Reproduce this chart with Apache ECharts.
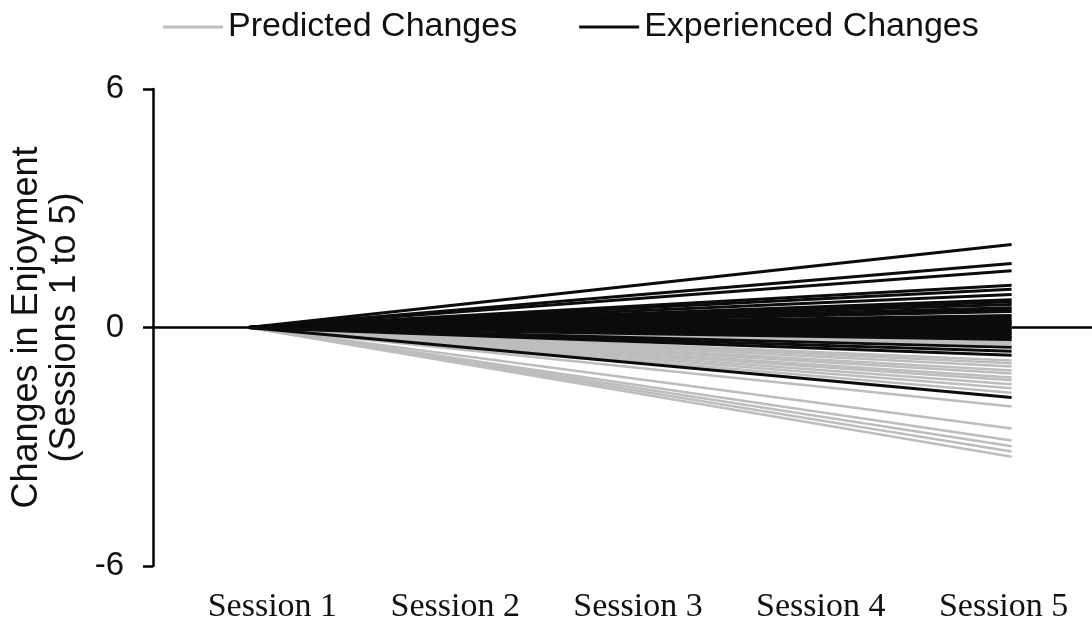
<!DOCTYPE html>
<html>
<head>
<meta charset="utf-8">
<title>Changes in Enjoyment</title>
<script src="https://cdn.jsdelivr.net/npm/echarts@6/dist/echarts.min.js"></script>
<style>
  html, body { margin: 0; padding: 0; background: #ffffff; }
  #chart { width: 1092px; height: 620px; }
</style>
</head>
<body>
<div id="chart"></div>
<script>
// Session labels along the x axis
const sessions = ['Session 1', 'Session 2', 'Session 3', 'Session 4', 'Session 5'];

// Y axis ticks
const yTicks = [-6, 0, 6];

// Change in enjoyment from session 1 to session 5, one value per participant
const predictedEnd = [
  0.30, 0.15, 0.05, 0.0, -0.05, -0.15, -0.25, -0.35, -0.40, -0.45,
  -0.83, -0.90, -0.98, -1.08, -1.16, -1.26, -1.33, -1.43, -1.53, -1.64,
  -1.99, -2.54, -2.84, -2.99, -3.12, -3.25
];
const experiencedEnd = [
  2.09, 1.61, 1.43, 1.06, 0.96, 0.83, 0.70, 0.65, 0.58, 0.50,
  0.45, 0.40, 0.30, 0.25, 0.20, 0.15, 0.10, 0.05, 0.0, -0.05,
  -0.10, -0.15, -0.20, -0.25, -0.30, -0.50, -0.60, -0.70, -1.76
];

// Every trajectory starts at zero in session 1 and is drawn straight to session 5
function trajectory(endValue) {
  return [0, null, null, null, endValue];
}

const PRED_NAME = 'Predicted Changes';
const EXP_NAME = 'Experienced Changes';
const PRED_COLOR = '#bdbdbd';
const EXP_COLOR = '#0c0c0c';

function makeSeries(name, color, width, ends) {
  return ends.map(v => ({
    name: name,
    type: 'line',
    xAxisIndex: 0,
    yAxisIndex: 0,
    data: trajectory(v),
    connectNulls: true,
    symbol: 'none',
    silent: true,
    lineStyle: { color: color, width: width },
    itemStyle: { color: color },
    emphasis: { disabled: true }
  }));
}

const series = [
  ...makeSeries(PRED_NAME, PRED_COLOR, 2.5, predictedEnd),
  ...makeSeries(EXP_NAME, EXP_COLOR, 3, experiencedEnd)
];

const chart = echarts.init(document.getElementById('chart'), null, { renderer: 'canvas' });

chart.setOption({
  animation: false,
  backgroundColor: '#ffffff',
  legend: {
    data: [
      { name: PRED_NAME, icon: 'rect', itemStyle: { color: PRED_COLOR } },
      { name: EXP_NAME, icon: 'rect', itemStyle: { color: EXP_COLOR } }
    ],
    left: 163,
    top: 10,
    padding: 0,
    itemGap: 62,
    itemWidth: 60,
    itemHeight: 3,
    selectedMode: false,
    textStyle: {
      fontFamily: 'Liberation Sans',
      fontSize: 34,
      color: '#111111'
    }
  },
  grid: [
    { left: 153, right: -15, top: 89, bottom: 54, containLabel: false, outerBoundsMode: 'none' },
    { left: 181, right: -3, top: 89, bottom: 54, containLabel: false, outerBoundsMode: 'none' }
  ],
  xAxis: [
    {
      gridIndex: 0,
      type: 'category',
      data: sessions,
      boundaryGap: true,
      axisLine: { show: true, onZero: true, lineStyle: { color: '#000000', width: 2.5 } },
      axisTick: { show: false },
      axisLabel: { show: false },
      splitLine: { show: false }
    },
    {
      gridIndex: 1,
      type: 'category',
      data: sessions,
      position: 'bottom',
      boundaryGap: true,
      axisLine: { show: false, onZero: false },
      axisTick: { show: false },
      axisLabel: {
        show: true,
        margin: 24,
        fontFamily: 'Liberation Serif',
        fontSize: 34,
        color: '#111111'
      },
      splitLine: { show: false }
    }
  ],
  yAxis: [
    {
      gridIndex: 0,
      type: 'value',
      min: yTicks[0],
      max: yTicks[yTicks.length - 1],
      interval: 6,
      name: 'Changes in Enjoyment\n(Sessions 1 to 5)',
      nameLocation: 'middle',
      nameRotate: 90,
      nameGap: 67,
      nameTextStyle: {
        fontFamily: 'Liberation Sans',
        fontSize: 36,
        lineHeight: 38,
        color: '#111111',
        align: 'center'
      },
      axisLine: { show: true, onZero: false, lineStyle: { color: '#000000', width: 2.5 } },
      axisTick: { show: true, inside: false, length: 10, lineStyle: { color: '#000000', width: 2.5 } },
      axisLabel: {
        show: true,
        margin: 29,
        fontFamily: 'Liberation Sans',
        fontSize: 33,
        color: '#111111'
      },
      splitLine: { show: false }
    },
    {
      gridIndex: 1,
      type: 'value',
      min: yTicks[0],
      max: yTicks[yTicks.length - 1],
      show: false
    }
  ],
  series: series
});
</script>
</body>
</html>
